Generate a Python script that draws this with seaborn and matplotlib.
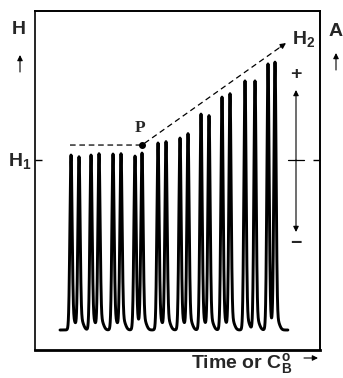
import numpy as np
import pandas as pd
import matplotlib
matplotlib.use("Agg")
import matplotlib.pyplot as plt
import seaborn as sns

# ---- data ----
peak_times = [36, 44, 56, 64, 78, 86, 100, 107, 123, 131,
              145, 153, 166, 174, 187, 195, 210, 220, 233, 240]
peak_heights = [0.988, 0.976, 0.988, 0.994, 0.994, 0.994, 0.982, 0.994, 1.059, 1.065,
                1.088, 1.112, 1.229, 1.218, 1.329, 1.347, 1.424, 1.424, 1.524, 1.529]
baseline_range = [25, 253]
H1_level = 1.0
P_point = (107, 1.088)
H2_point = (251, 1.688)
dash_start = 35

sns.set_style("white")
plt.rcParams['font.family'] = ['Liberation Sans', 'DejaVu Sans']
plt.rcParams['mathtext.fontset'] = 'custom'
plt.rcParams['mathtext.rm'] = 'Liberation Sans:bold'
plt.rcParams['mathtext.bf'] = 'Liberation Sans:bold'
plt.rcParams['mathtext.it'] = 'Liberation Sans:bold'

W, H = 343, 378
fig = plt.figure(figsize=(W / 100, H / 100), dpi=100)
ax = fig.add_axes([35 / W, 28 / H, 285 / W, 339 / H])

# build trace from peaks
t = np.arange(baseline_range[0], baseline_range[1], 0.1)
sig = np.zeros_like(t)
for pt, ph in zip(peak_times, peak_heights):
    sig += ph * np.exp(-0.5 * ((t - pt) / 1.1) ** 2)
    sig += 0.06 * np.exp(-0.5 * ((t - pt - 2.0) / 2.3) ** 2)
df = pd.DataFrame({"t": t, "signal": sig})
sns.lineplot(data=df, x="t", y="signal", color="black", lw=2.1, ax=ax)

ax.set_xlim(0, 285)
ax.set_ylim(-20 / 170, 319 / 170)
ax.set_xlabel("")
ax.set_ylabel("")
ax.set_xticks([])
ax.set_yticks([H1_level])
ax.set_yticklabels([])
ax.tick_params(axis='y', left=True, right=True, direction='in', length=5, width=1, color='black')
for s in ax.spines.values():
    s.set_color('black')
    s.set_visible(True)
ax.spines['left'].set_linewidth(1.2)
ax.spines['right'].set_linewidth(1.4)
ax.spines['top'].set_linewidth(1.4)
ax.spines['bottom'].set_linewidth(2.0)

# dashed guide line
slope = (H2_point[1] - P_point[1]) / (H2_point[0] - P_point[0])
ax.plot([dash_start, P_point[0], H2_point[0] - 4], [P_point[1], P_point[1], H2_point[1] - 4 * slope],
        color='black', lw=0.9, ls=(0, (4.5, 3)))
ax.annotate('', xy=H2_point, xytext=(H2_point[0] - 6, H2_point[1] - 6 * slope),
            arrowprops=dict(arrowstyle='-|>', color='black', lw=0.9, mutation_scale=8, shrinkA=0, shrinkB=0))
ax.plot([P_point[0]], [P_point[1]], 'o', color='black', ms=4)


def f(x, y):
    return (x / W, 1 - y / H)


fig.text(*f(140, 128), 'P', family=['Liberation Serif', 'DejaVu Serif'], weight='bold', fontsize=12.5, ha='center', va='center')
fig.text(*f(19, 30), 'H', weight='bold', fontsize=14, ha='center', va='center')
fig.text(*f(335.5, 31), 'A', weight='bold', fontsize=14, ha='center', va='center')
fig.text(*f(20, 161), r'$\mathbf{H_1}$', fontsize=14, ha='center', va='center')
fig.text(*f(304, 39), r'$\mathbf{H_2}$', fontsize=14, ha='center', va='center')
fig.text(*f(296, 75), '+', weight='bold', fontsize=14, ha='center', va='center')
fig.text(*f(296, 243), '\u2212', weight='bold', fontsize=14, ha='center', va='center')
fig.text(*f(242, 364), r'Time or $\mathbf{C^{o}_{B}}$', weight='bold', fontsize=14, ha='center', va='center')

arrow_kw = dict(arrowstyle='-|>', color='black', lw=0.8, mutation_scale=8, shrinkA=0, shrinkB=0)
fig_ax = fig.add_axes([0, 0, 1, 1], zorder=5)
fig_ax.set_xlim(0, W)
fig_ax.set_ylim(H, 0)
fig_ax.axis('off')
fig_ax.annotate('', xy=(20, 55), xytext=(20, 72), arrowprops=arrow_kw)
fig_ax.annotate('', xy=(336, 53), xytext=(336, 70), arrowprops=arrow_kw)
fig_ax.annotate('', xy=(296, 90), xytext=(296, 160), arrowprops=arrow_kw)
fig_ax.annotate('', xy=(296, 232), xytext=(296, 160), arrowprops=arrow_kw)
fig_ax.plot([288, 304], [160, 160], color='black', lw=0.9)
fig_ax.annotate('', xy=(318, 358), xytext=(304, 358), arrowprops=arrow_kw)

fig.savefig('out.png', dpi=100, facecolor='white')
